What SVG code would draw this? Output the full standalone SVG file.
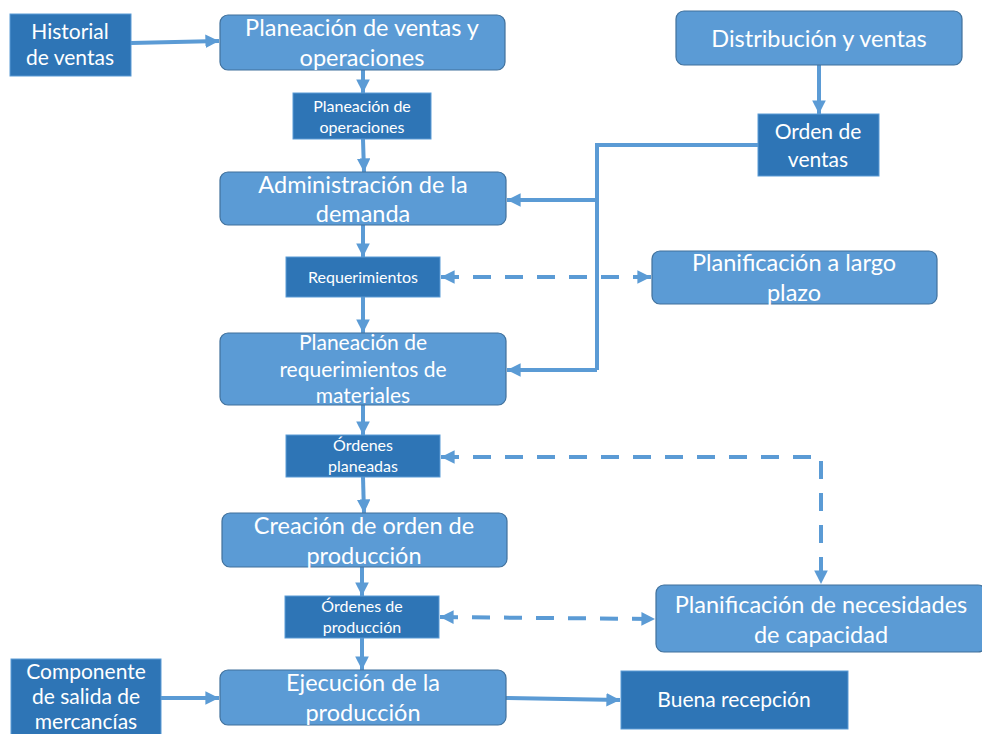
<svg xmlns="http://www.w3.org/2000/svg" width="982" height="734" viewBox="0 0 982 734">
  <defs>
    <style>
      .proc { fill: #5B9BD5; stroke: #41719C; stroke-width: 1.2; }
      .data { fill: #2E75B6; stroke: #5B9BD5; stroke-width: 1; }
      text { font-family: Lato, "Open Sans", "Liberation Sans", sans-serif; fill: #ffffff; text-anchor: middle; }
      .big { font-size: 23.5px; }
      .mid { font-size: 21px; }
      .small { font-size: 16px; }
      .line { fill: none; stroke: #5B9BD5; stroke-width: 4; }
      .dash { fill: none; stroke: #5B9BD5; stroke-width: 4; stroke-dasharray: 18 14; }
    </style>
    <marker id="head" viewBox="0 0 10 10" refX="10" refY="5" markerWidth="3.4" markerHeight="3.4" orient="auto" markerUnits="strokeWidth">
      <path d="M0,0 L10,5 L0,10 Z" fill="#5B9BD5"/>
    </marker>
    <marker id="tail" viewBox="0 0 10 10" refX="0" refY="5" markerWidth="3.4" markerHeight="3.4" orient="auto" markerUnits="strokeWidth">
      <path d="M10,0 L0,5 L10,10 Z" fill="#5B9BD5"/>
    </marker>
  </defs>

  <!-- connectors -->
  <g id="connectors">
    <line class="line" x1="131" y1="43" x2="219" y2="41" marker-end="url(#head)"/>
    <line class="line" x1="363" y1="70" x2="363" y2="93" marker-end="url(#head)"/>
    <line class="line" x1="363" y1="139" x2="364" y2="172" marker-end="url(#head)"/>
    <line class="line" x1="363" y1="225" x2="363" y2="257" marker-end="url(#head)"/>
    <line class="line" x1="363" y1="297" x2="363" y2="333" marker-end="url(#head)"/>
    <line class="line" x1="363" y1="405" x2="363" y2="435" marker-end="url(#head)"/>
    <line class="line" x1="363" y1="477" x2="364" y2="513" marker-end="url(#head)"/>
    <line class="line" x1="362" y1="567" x2="362" y2="596" marker-end="url(#head)"/>
    <line class="line" x1="362" y1="638" x2="362" y2="670" marker-end="url(#head)"/>
    <line class="line" x1="161" y1="698" x2="219" y2="698" marker-end="url(#head)"/>
    <line class="line" x1="506" y1="698" x2="620" y2="700" marker-end="url(#head)"/>
    <line class="line" x1="819" y1="65" x2="819" y2="114" marker-end="url(#head)"/>
    <polyline class="line" points="758,145 597,145 597,370"/>
    <line class="line" x1="597" y1="200" x2="507" y2="200" marker-end="url(#head)"/>
    <line class="line" x1="597" y1="370" x2="507" y2="370" marker-end="url(#head)"/>
    <line class="dash" x1="441" y1="277" x2="651" y2="277" marker-start="url(#tail)" marker-end="url(#head)"/>
    <polyline class="dash" points="441,457 821,457 821,584" marker-start="url(#tail)" marker-end="url(#head)"/>
    <line class="dash" x1="440" y1="617" x2="655" y2="619" marker-start="url(#tail)" marker-end="url(#head)"/>
  </g>

  <g id="historial">
    <rect class="data" x="10" y="14" width="121" height="62"/>
    <text class="mid" x="70" y="39">Historial</text>
    <text class="mid" x="70" y="65">de ventas</text>
  </g>

  <g id="planeacion-ventas">
    <rect class="proc" x="220" y="15" width="285" height="55" rx="8"/>
    <text class="big" x="362" y="36">Planeación de ventas y</text>
    <text class="big" x="362" y="66">operaciones</text>
  </g>

  <g id="planeacion-operaciones">
    <rect class="data" x="293" y="93" width="138" height="46"/>
    <text class="small" x="362" y="112">Planeación de</text>
    <text class="small" x="362" y="133">operaciones</text>
  </g>

  <g id="administracion">
    <rect class="proc" x="220" y="172" width="286" height="53" rx="8"/>
    <text class="big" x="363" y="193">Administración de la</text>
    <text class="big" x="363" y="222">demanda</text>
  </g>

  <g id="requerimientos">
    <rect class="data" x="286" y="257" width="154" height="40"/>
    <text class="small" x="363" y="283">Requerimientos</text>
  </g>

  <g id="planeacion-materiales">
    <rect class="proc" x="220" y="333" width="286" height="72" rx="8"/>
    <text class="mid" x="363" y="350">Planeación de</text>
    <text class="mid" x="363" y="377">requerimientos de</text>
    <text class="mid" x="363" y="403">materiales</text>
  </g>

  <g id="ordenes-planeadas">
    <rect class="data" x="286" y="435" width="154" height="42"/>
    <text class="small" x="363" y="451">Órdenes</text>
    <text class="small" x="363" y="472">planeadas</text>
  </g>

  <g id="creacion-orden">
    <rect class="proc" x="222" y="513" width="285" height="54" rx="8"/>
    <text class="big" x="364" y="534">Creación de orden de</text>
    <text class="big" x="364" y="564">producción</text>
  </g>

  <g id="ordenes-produccion">
    <rect class="data" x="285" y="596" width="154" height="42"/>
    <text class="small" x="362" y="612">Órdenes de</text>
    <text class="small" x="362" y="633">producción</text>
  </g>

  <g id="ejecucion">
    <rect class="proc" x="220" y="670" width="286" height="55" rx="8"/>
    <text class="big" x="363" y="691">Ejecución de la</text>
    <text class="big" x="363" y="721">producción</text>
  </g>

  <g id="componente">
    <rect class="data" x="11" y="659" width="150" height="80"/>
    <text class="mid" x="86" y="679">Componente</text>
    <text class="mid" x="86" y="704">de salida de</text>
    <text class="mid" x="86" y="729">mercancías</text>
  </g>

  <g id="buena-recepcion">
    <rect class="data" x="621" y="671" width="227" height="58"/>
    <text class="mid" x="734" y="707">Buena recepción</text>
  </g>

  <g id="distribucion">
    <rect class="proc" x="676" y="11" width="286" height="54" rx="8"/>
    <text class="big" x="819" y="47">Distribución y ventas</text>
  </g>

  <g id="orden-ventas">
    <rect class="data" x="758" y="114" width="121" height="62"/>
    <text class="mid" x="818" y="139">Orden de</text>
    <text class="mid" x="818" y="167">ventas</text>
  </g>

  <g id="largo-plazo">
    <rect class="proc" x="652" y="251" width="285" height="53" rx="8"/>
    <text class="big" x="794" y="271">Planificación a largo</text>
    <text class="big" x="794" y="301">plazo</text>
  </g>

  <g id="necesidades-capacidad">
    <rect class="proc" x="656" y="585" width="330" height="67" rx="8"/>
    <text class="big" x="821" y="613">Planificación de necesidades</text>
    <text class="big" x="821" y="643">de capacidad</text>
  </g>
</svg>
